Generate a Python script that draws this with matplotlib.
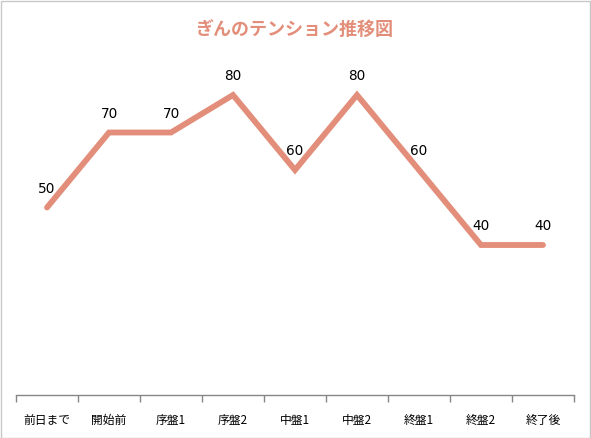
import matplotlib
matplotlib.use('Agg')
import matplotlib.pyplot as plt
from matplotlib.patches import Rectangle

plt.rcParams['font.family'] = ['Noto Sans CJK JP', 'DejaVu Sans']

# data
stages = ['前日まで', '開始前', '序盤1', '序盤2', '中盤1', '中盤2', '終盤1', '終盤2', '終了後']
tension = [50, 70, 70, 80, 60, 80, 60, 40, 40]

line_color = '#E38E7A'

fig = plt.figure(figsize=(5.91, 4.38), dpi=100)
ax = fig.add_axes([16 / 591, 43 / 438, 558 / 591, 375 / 438])

x = list(range(len(stages)))
ax.plot(x, tension, color=line_color, linewidth=4.2, solid_capstyle='round', solid_joinstyle='miter')

for xi, v in zip(x, tension):
    ax.annotate(str(v), (xi, v), xytext=(0, 13.5), textcoords='offset points',
                ha='center', va='center', fontsize=9.8, color='black',
                family='DejaVu Sans')

ax.set_xlim(-0.5, len(stages) - 0.5)
ax.set_ylim(0, 100)

# category ticks at boundaries, labels in the middle
ax.set_xticks([i - 0.5 for i in range(len(stages) + 1)])
ax.set_xticklabels([])
ax.set_xticks(x, minor=True)
ax.set_xticklabels(stages, minor=True, fontsize=8.5)
ax.tick_params(axis='x', which='major', length=5, color='#868686', width=1)
ax.tick_params(axis='x', which='minor', length=0, pad=14)
ax.set_yticks([])

for side in ['top', 'right', 'left']:
    ax.spines[side].set_visible(False)
ax.spines['bottom'].set_color('#868686')
ax.spines['bottom'].set_linewidth(1)

fig.text(294 / 591, 1 - 30 / 438, 'ぎんのテンション推移図', ha='center', va='center',
         fontsize=13, fontweight='bold', color=line_color)

# light frame around the chart
fig.patches.append(Rectangle((0.001, 0.001), 0.997, 0.996, transform=fig.transFigure,
                             fill=False, edgecolor='#C8C8C8', linewidth=1))

fig.savefig('out.png', dpi=100)
